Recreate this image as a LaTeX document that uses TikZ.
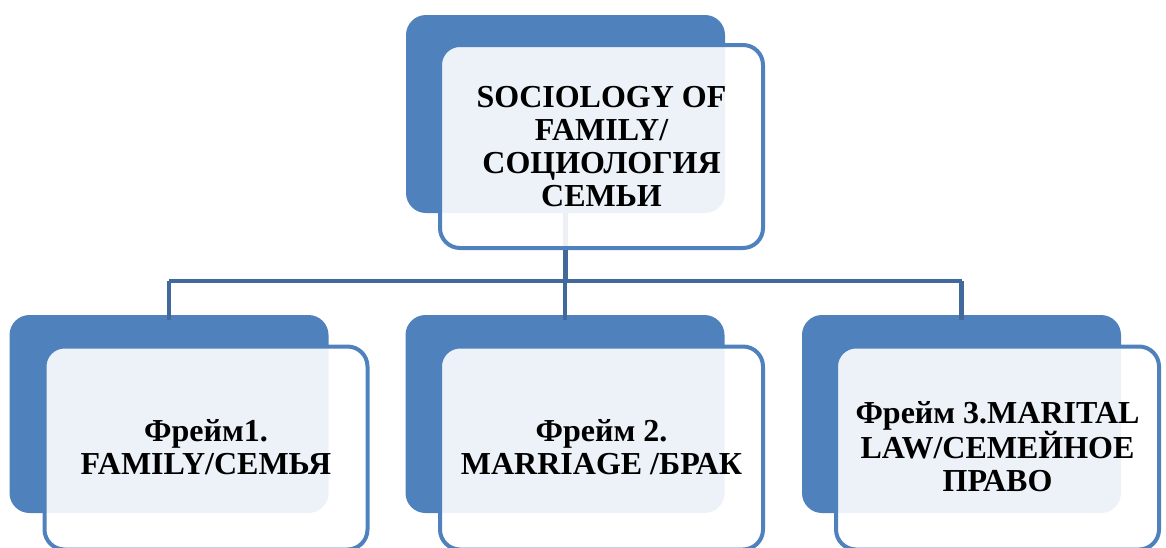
\documentclass[tikz,border=0pt]{standalone}
\usepackage{fontspec}
\setmainfont{Liberation Serif}
\definecolor{accent}{HTML}{4F81BD}
\definecolor{conn}{HTML}{41699B}
\tikzset{
  backbox/.style={draw=none, fill=accent, rounded corners=20pt, minimum width=319pt, minimum height=198pt, inner sep=0pt},
  frontbox/.style={draw=accent, line width=4pt, fill=white, fill opacity=0.9, text opacity=1, rounded corners=20pt, minimum width=323pt, minimum height=203pt, inner sep=0pt},
  boxtext/.style={align=center, font=\fontsize{32}{33}\selectfont\bfseries, text=black, inner sep=0pt},
  connline/.style={draw=conn, line width=4.5pt}
}
\begin{document}
\begin{tikzpicture}[x=1pt,y=-1pt]
\useasboundingbox (0,0) rectangle (1166,547);
% back boxes
\node[backbox] (tb) at (565.5,114) {};
\node[backbox] (lb) at (169,414) {};
\node[backbox] (mb) at (565,414) {};
\node[backbox] (rb) at (961.5,414) {};
% connectors (under the front boxes)
\coordinate (bar) at (565.5,281);
\draw[connline] (tb.south) -- (tb.south |- bar);
\draw[connline] (lb.north |- bar) -- (rb.north |- bar);
\draw[connline] (lb.north |- bar) -- ([yshift=-5pt]lb.north);
\draw[connline] (mb.north |- bar) -- ([yshift=-5pt]mb.north);
\draw[connline] (rb.north |- bar) -- ([yshift=-5pt]rb.north);
% front boxes
\node[frontbox] (tf) at (601.5,146.5) {};
\node[frontbox] (lf) at (206,448) {};
\node[frontbox] (mf) at (601.5,448) {};
\node[frontbox] (rf) at (997.5,448) {};
% texts
\node[boxtext] (tt) at (601.5,147) {SOCIOLOGY OF\\FAMILY/\\СОЦИОЛОГИЯ\\СЕМЬИ};
\node[boxtext] (lt) at (206,447) {Фрейм1.\\FAMILY/СЕМЬЯ};
\node[boxtext] (mt) at (601.5,447) {Фрейм 2.\\MARRIAGE /БРАК};
\node[boxtext] (rt) at (997.5,447) {Фрейм 3.MARITAL\\LAW/СЕМЕЙНОЕ\\ПРАВО};
\end{tikzpicture}
\end{document}
